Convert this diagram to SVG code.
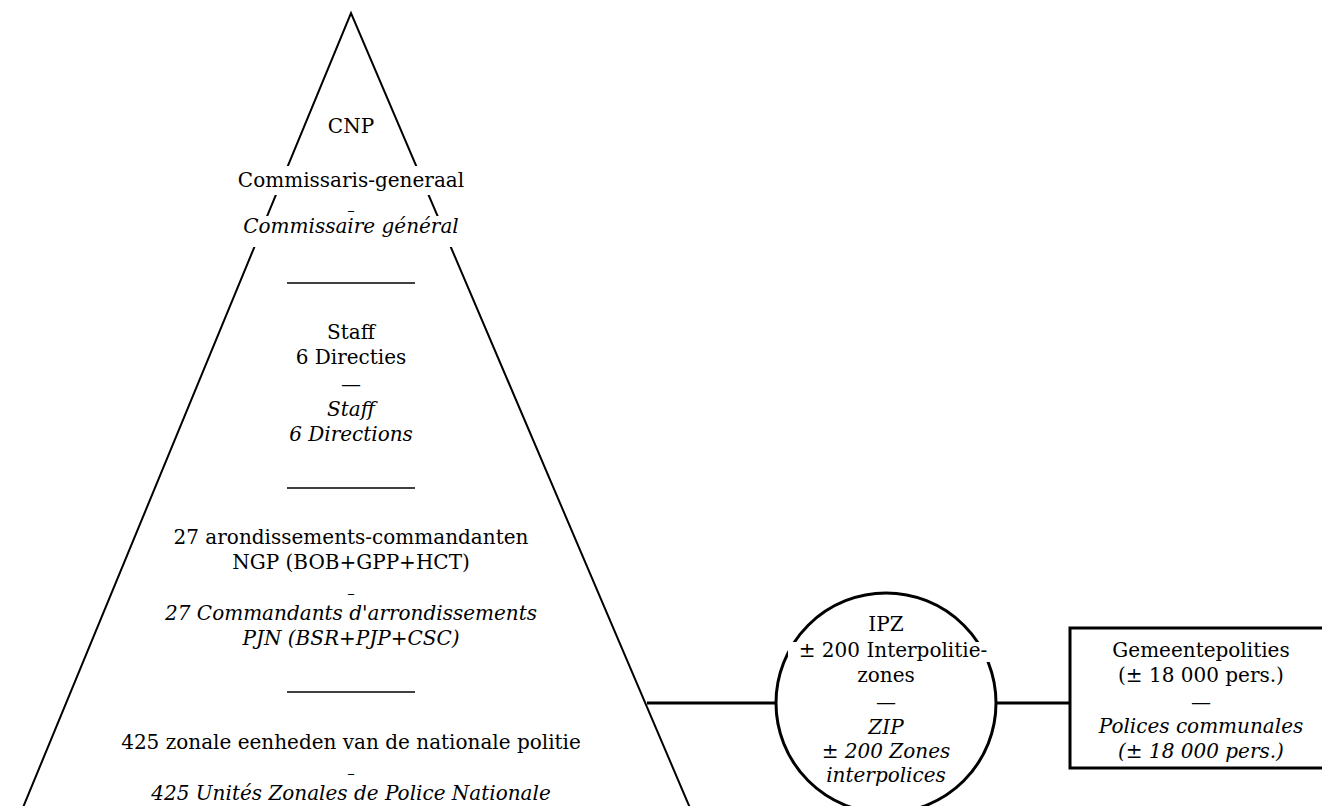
<svg xmlns="http://www.w3.org/2000/svg" width="1322" height="806" viewBox="0 0 1322 806">
<style>
text { font-family: "DejaVu Serif", "Liberation Serif", serif; font-size: 20px; fill: #000; text-anchor: middle; }
.it { font-style: italic; }
.dash { font-size: 15px; }
.edge { stroke: #000; stroke-width: 2; fill: none; }
.thick { stroke: #000; stroke-width: 3; fill: #fff; }
.conn { stroke: #000; stroke-width: 3; fill: none; }
.mask { fill: #fff; }
.sep { stroke: #000; stroke-width: 1.4; }
</style>
<rect width="1322" height="806" fill="#fff"/>
<g id="connectors">
  <line class="conn" x1="647" y1="703" x2="777" y2="703"/>
  <line class="conn" x1="995" y1="703" x2="1070" y2="703"/>
</g>
<g id="node-pyramid">
  <path class="edge" d="M 17 822 L 351 13 L 696 822"/>
  <g id="tier-cnp">
    <rect class="mask" x="225" y="166" width="255" height="29"/>
    <rect class="mask" x="225" y="216" width="255" height="31"/>
    <text x="351" y="133">CNP</text>
    <text x="351" y="187">Commissaris-generaal</text>
    <text class="dash" x="351" y="215">–</text>
    <text class="it" x="351" y="233">Commissaire général</text>
  </g>
  <line class="sep" x1="287" y1="283" x2="415" y2="283"/>
  <g id="tier-staff">
    <text x="351" y="339">Staff</text>
    <text x="351" y="364">6 Directies</text>
    <text x="351" y="391">—</text>
    <text class="it" x="351" y="416">Staff</text>
    <text class="it" x="351" y="441">6 Directions</text>
  </g>
  <line class="sep" x1="287" y1="488" x2="415" y2="488"/>
  <g id="tier-arrondissements">
    <text x="351" y="544">27 arondissements-commandanten</text>
    <text x="351" y="569">NGP (BOB+GPP+HCT)</text>
    <text class="dash" x="351" y="598">–</text>
    <text class="it" x="351" y="620">27 Commandants d'arrondissements</text>
    <text class="it" x="351" y="645">PJN (BSR+PJP+CSC)</text>
  </g>
  <line class="sep" x1="287" y1="692" x2="415" y2="692"/>
  <g id="tier-zonal">
    <text x="351" y="749">425 zonale eenheden van de nationale politie</text>
    <text class="dash" x="351" y="778">–</text>
    <text class="it" x="351" y="800">425 Unités Zonales de Police Nationale</text>
  </g>
</g>
<g id="node-ipz">
  <circle class="thick" cx="886" cy="703" r="110"/>
  <rect class="mask" x="788" y="642" width="207" height="20"/>
  <text x="886" y="631">IPZ</text>
  <text x="893" y="657">± 200 Interpolitie-</text>
  <text x="886" y="682">zones</text>
  <text x="886" y="709">—</text>
  <text class="it" x="886" y="734">ZIP</text>
  <text class="it" x="886" y="758">± 200 Zones</text>
  <text class="it" x="886" y="782">interpolices</text>
</g>
<g id="node-gemeentepolities">
  <rect class="thick" x="1070" y="628" width="262" height="140"/>
  <text x="1201" y="657">Gemeentepolities</text>
  <text x="1201" y="682">(± 18 000 pers.)</text>
  <text x="1201" y="709">—</text>
  <text class="it" x="1201" y="733">Polices communales</text>
  <text class="it" x="1201" y="758">(± 18 000 pers.)</text>
</g>
</svg>
